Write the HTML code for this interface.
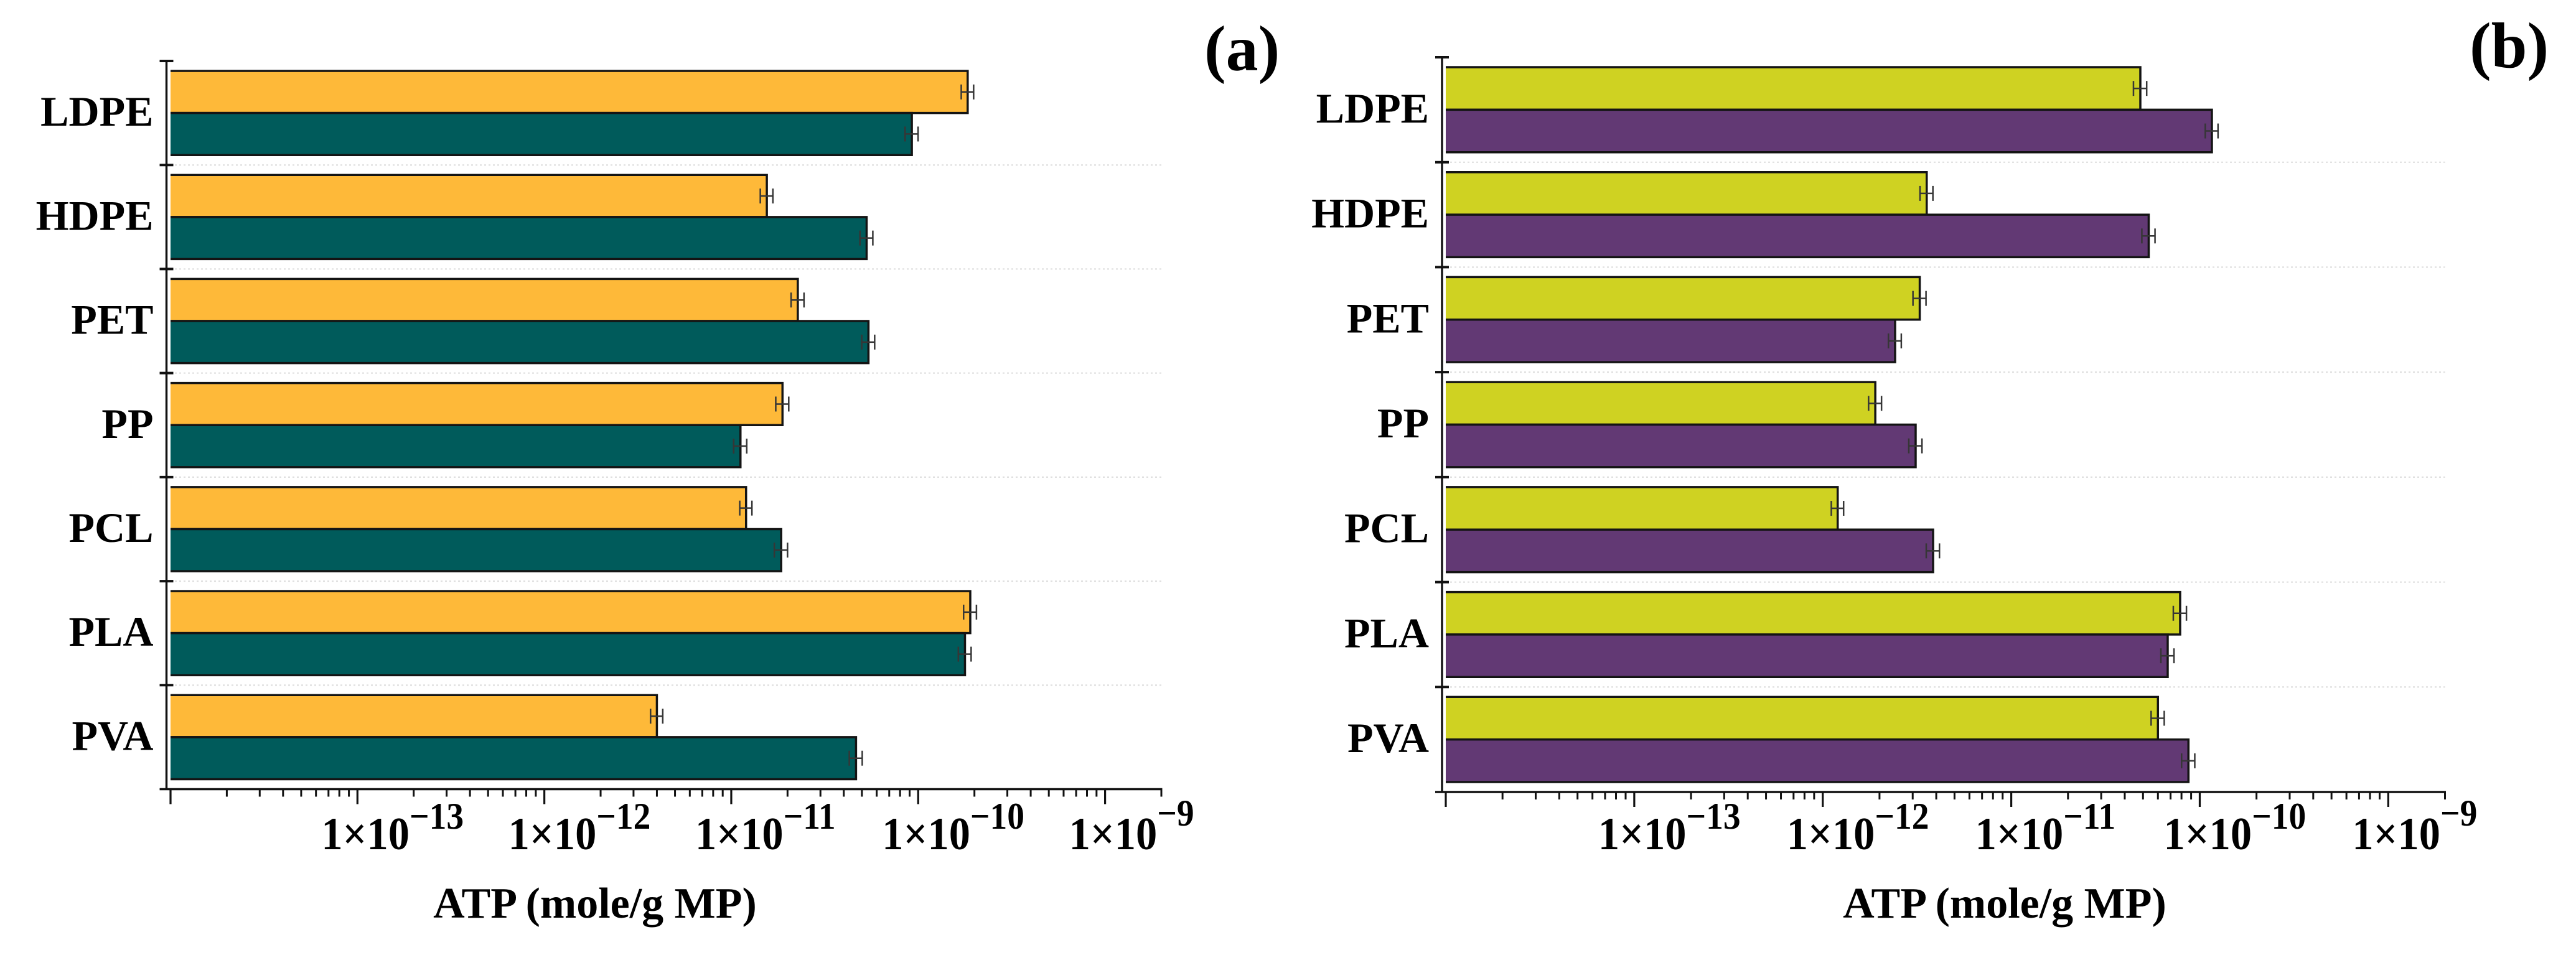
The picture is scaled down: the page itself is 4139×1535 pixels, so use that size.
<!DOCTYPE html>
<html lang="en">
<head>
<meta charset="utf-8">
<title>ATP per gram of microplastic</title>
<style>
  html, body { margin: 0; padding: 0; background: #fff; }
  body { width: 4139px; height: 1535px; overflow: hidden; }
  svg { display: block; }
  text { font-family: "Liberation Serif", serif; font-weight: bold; fill: #000; }
</style>
</head>
<body>
<svg id="figure" xmlns="http://www.w3.org/2000/svg" width="4139" height="1535" viewBox="0 0 4139 1535"></svg>
<script>
// Chart data
const categories = ['LDPE', 'HDPE', 'PET', 'PP', 'PCL', 'PLA', 'PVA'];
const tickExponents = [-13, -12, -11, -10, -9];
const axisTitle = 'ATP (mole/g MP)';
const panelALabel = '(a)';
const panelBLabel = '(b)';

const panelAOrange = [1.84e-10, 1.55e-11, 2.27e-11, 1.88e-11, 1.20e-11, 1.90e-10, 4.00e-12];
const panelATeal = [9.25e-11, 5.30e-11, 5.42e-11, 1.12e-11, 1.85e-11, 1.78e-10, 4.65e-11];
const panelBYellow = [4.84e-11, 3.56e-12, 3.27e-12, 1.90e-12, 1.20e-12, 7.87e-11, 6.00e-11];
const panelBPurple = [1.16e-10, 5.36e-11, 2.42e-12, 3.11e-12, 3.85e-12, 6.76e-11, 8.71e-11];

const panelAOrangeErr = [1.4e-11, 1.2e-12, 1.8e-12, 1.5e-12, 0.9e-12, 1.5e-11, 0.3e-12];
const panelATealErr = [7.4e-12, 4.2e-12, 4.3e-12, 0.9e-12, 1.5e-12, 1.4e-11, 3.7e-12];
const panelBYellowErr = [3.9e-12, 2.8e-13, 2.6e-13, 1.5e-13, 0.9e-13, 6.3e-12, 4.8e-12];
const panelBPurpleErr = [0.9e-11, 4.3e-12, 1.9e-13, 2.5e-13, 3.1e-13, 5.4e-12, 7.0e-12];

const SVGNS = 'http://www.w3.org/2000/svg';
const figure = document.getElementById('figure');
const X_MIN = 1e-14;
const X_MAX = 2e-9;

function make(tag, parent, attrs) {
  const el = document.createElementNS(SVGNS, tag);
  for (const k in attrs) el.setAttribute(k, attrs[k]);
  parent.appendChild(el);
  return el;
}

function drawPanel(p) {
  const xScale = v => p.x0 + (Math.log10(v) - Math.log10(X_MIN)) / (Math.log10(X_MAX) - Math.log10(X_MIN)) * (p.x1 - p.x0);
  const bandH = (p.bottom - p.top) / categories.length;
  const bandTop = i => p.top + i * bandH;

  const g = make('g', figure, {});
  
  

  // gridlines
  for (let i = 1; i < categories.length; i++) {
    const grid = make('line', g, { x1: p.x0, x2: p.x1, y1: bandTop(i), y2: bandTop(i), stroke: '#dcdcdc', 'stroke-width': 2, 'stroke-dasharray': '3 4' });
    
    
  }

  // bars: filled rectangle with border on the top, right and bottom edges only
  const pad = 16;
  const barH = (bandH - 2 * pad) / 2;
  p.series.forEach((s, si) => {
    s.values.forEach((v, i) => {
      const y = bandTop(i) + pad + si * barH;
      const xEnd = xScale(v);
      const bar = make('rect', g, { x: p.x0, y: y, width: xEnd - p.x0, height: barH, fill: s.color });
      
      
      const border = make('path', g, {
        d: 'M' + p.x0 + ' ' + y + 'H' + xEnd + 'V' + (y + barH) + 'H' + p.x0,
        fill: 'none', stroke: '#141414', 'stroke-width': 3.5
      });
      
      
    });
  });

  // error bars
  p.series.forEach((s, si) => {
    s.values.forEach((v, i) => {
      const cy = bandTop(i) + pad + si * barH + barH / 2;
      const lo = xScale(v - s.errors[i]);
      const hi = xScale(v + s.errors[i]);
      const eg = make('g', g, { stroke: '#363636', 'stroke-width': 2.5, fill: 'none' });
      
      
      make('line', eg, { x1: lo, x2: hi, y1: cy, y2: cy });
      make('line', eg, { x1: lo, x2: lo, y1: cy - 12, y2: cy + 12 });
      make('line', eg, { x1: hi, x2: hi, y1: cy - 12, y2: cy + 12 });
    });
  });

  // y axis
  const yAxis = make('line', g, { x1: p.axisX, x2: p.axisX, y1: p.top - 2, y2: p.bottom + 1.5, stroke: '#111', 'stroke-width': 3.4 });
  
  

  for (let i = 0; i < categories.length; i++) {
    const t = make('line', g, { x1: p.axisX - 11, x2: p.axisX + 11, y1: bandTop(i), y2: bandTop(i), stroke: '#111', 'stroke-width': 4 });
    
    

    const label = make('text', g, { x: p.axisX - 21, y: bandTop(i) + bandH / 2 + 20.5, 'text-anchor': 'end', 'font-size': 68 });
    label.textContent = categories[i];
    
    
  }

  // x axis
  const xAxis = make('line', g, { x1: p.axisX - 11, x2: p.x1 + 1.5, y1: p.bottom, y2: p.bottom, stroke: '#111', 'stroke-width': 3.6 });
  
  

  for (let e = -14; e <= -9; e++) {
    const major = make('line', g, { x1: xScale(Math.pow(10, e)), x2: xScale(Math.pow(10, e)), y1: p.bottom, y2: p.bottom + 24, stroke: '#111', 'stroke-width': 3.2 });
    
    
    if (e < -9) {
      for (let m = 2; m <= 9; m++) {
        const mx = xScale(m * Math.pow(10, e));
        const minor = make('line', g, { x1: mx, x2: mx, y1: p.bottom, y2: p.bottom + 12, stroke: '#111', 'stroke-width': 3 });
        
        
      }
    }
  }
  const endTick = make('line', g, { x1: xScale(X_MAX), x2: xScale(X_MAX), y1: p.bottom, y2: p.bottom + 12, stroke: '#111', 'stroke-width': 3 });
  
  

  // x tick labels: slightly condensed to match the stretched reference glyphs
  tickExponents.forEach(e => {
    const tl = make('text', g, {
      transform: 'translate(' + (xScale(Math.pow(10, e)) - 58) + ' ' + p.labelBaseline + ') scale(0.925 1)',
      'text-anchor': 'start', 'font-size': 74
    });
    
    
    const base = make('tspan', tl, {});
    base.textContent = '1×10';
    const sup = make('tspan', tl, { 'font-size': 60, dy: e === -9 ? -38 : -33 });
    sup.textContent = '\u2212' + Math.abs(e);
  });

  // axis title
  const title = make('text', g, { x: p.titleX, y: 1475, 'text-anchor': 'middle', 'font-size': 70 });
  title.textContent = axisTitle;
  
  

  // panel letter
  const letter = make('text', g, { x: p.letterX, y: p.letterY, 'font-size': 104 });
  letter.textContent = p.letter;
  
  
}

drawPanel({
  name: 'panel-a', letter: panelALabel,
  x0: 274, x1: 1866, top: 98, bottom: 1268.5, axisX: 267.5,
  labelBaseline: 1365, titleX: 956, letterX: 1935, letterY: 113,
  series: [
    { key: 'orange', color: '#FEB939', values: panelAOrange, errors: panelAOrangeErr },
    { key: 'teal', color: '#005B5B', values: panelATeal, errors: panelATealErr }
  ]
});

drawPanel({
  name: 'panel-b', letter: panelBLabel,
  x0: 2323, x1: 3928.5, top: 92, bottom: 1273, axisX: 2317,
  labelBaseline: 1365, titleX: 3221, letterX: 3968, letterY: 108,
  series: [
    { key: 'yellow', color: '#CFD222', values: panelBYellow, errors: panelBYellowErr },
    { key: 'purple', color: '#623974', values: panelBPurple, errors: panelBPurpleErr }
  ]
});
</script>
</body>
</html>
